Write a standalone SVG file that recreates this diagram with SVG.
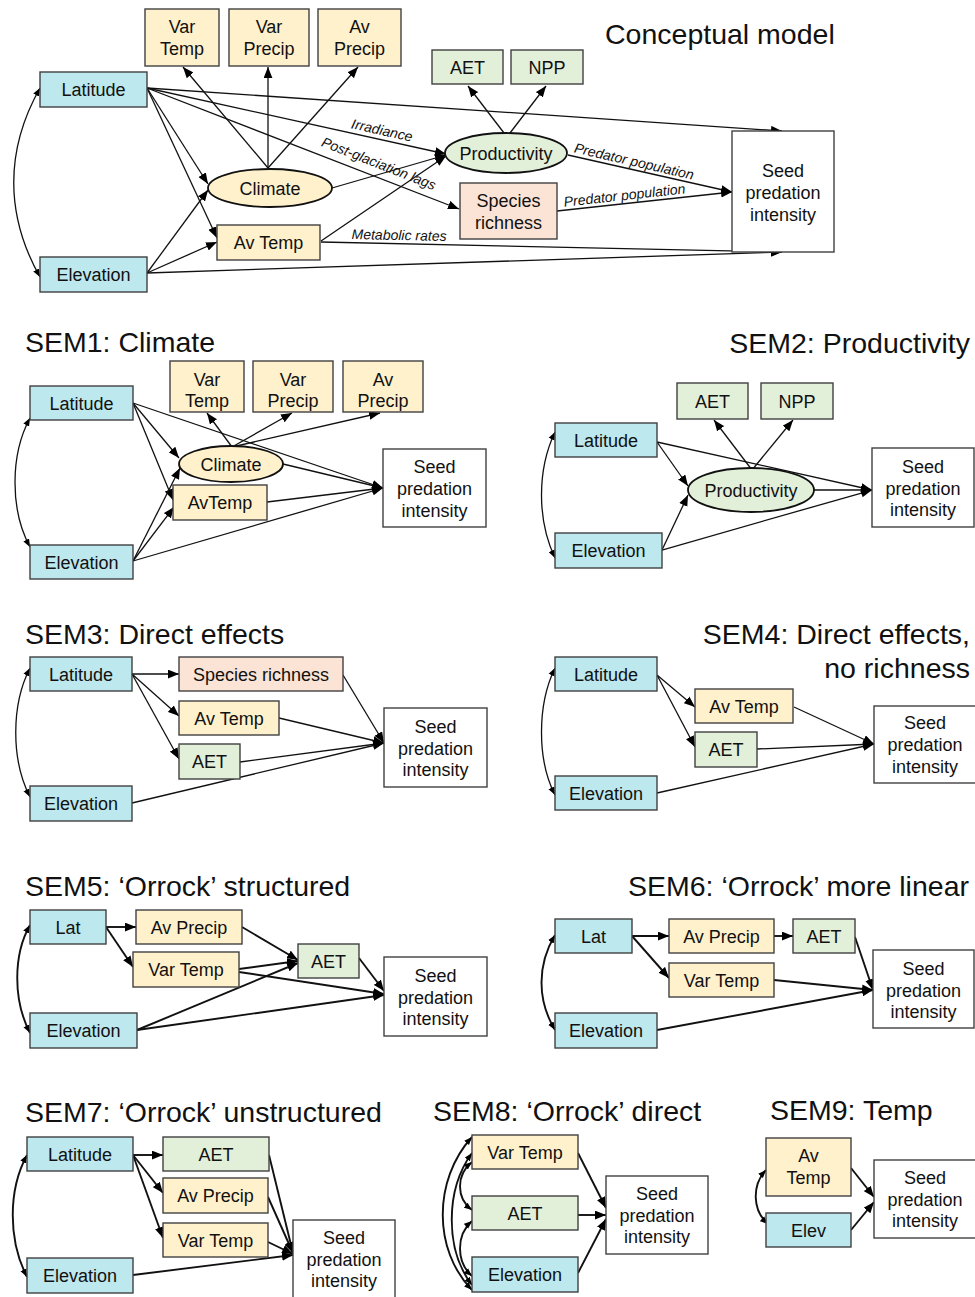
<svg xmlns="http://www.w3.org/2000/svg" width="975" height="1297" viewBox="0 0 975 1297">
<style>
text{font-family:"Liberation Sans",Arial,sans-serif;fill:#111}
.t{font-size:28.5px}
.n{font-size:18px;text-anchor:middle}
.lb{font-size:14px;font-style:italic;text-anchor:middle}
.nd rect,.nd ellipse{stroke:#404040;stroke-width:1.4}
.nd ellipse{stroke:#111;stroke-width:1.8}
.b{fill:#BDE8EE}.y{fill:#FFF1CC}.g{fill:#E2EFD9}.p{fill:#FBE4D5}.w{fill:#fff}
.c path,.c line{fill:none;stroke:#111;stroke-width:1.3;marker-end:url(#ah)}
.c .d{marker-start:url(#ahs);marker-end:url(#ahs)}
.k path,.k line{stroke-width:1.9}
</style>
<defs>
<marker id="ah" viewBox="0 0 10 8" refX="10" refY="4" markerWidth="11" markerHeight="9" markerUnits="userSpaceOnUse" orient="auto-start-reverse"><path d="M0,0L10,4L0,8Z" fill="#000"/></marker>
<marker id="ahs" viewBox="0 0 10 8" refX="10" refY="4" markerWidth="8" markerHeight="7" markerUnits="userSpaceOnUse" orient="auto-start-reverse"><path d="M0,0L10,4L0,8Z" fill="#000"/></marker>
</defs>
<rect width="975" height="1297" fill="#fff"/>

<g id="titles">
<text class="t" x="605" y="44">Conceptual model</text>
<text class="t" x="25" y="352">SEM1: Climate</text>
<text class="t" x="970" y="353" text-anchor="end">SEM2: Productivity</text>
<text class="t" x="25" y="644">SEM3: Direct effects</text>
<text class="t" x="970" y="644" text-anchor="end">SEM4: Direct effects,</text>
<text class="t" x="970" y="678" text-anchor="end">no richness</text>
<text class="t" x="25" y="896">SEM5: ‘Orrock’ structured</text>
<text class="t" x="969" y="896" text-anchor="end">SEM6: ‘Orrock’ more linear</text>
<text class="t" x="25" y="1122">SEM7: ‘Orrock’ unstructured</text>
<text class="t" x="433" y="1121">SEM8: ‘Orrock’ direct</text>
<text class="t" x="770" y="1120">SEM9: Temp</text>
</g>

<g id="connectors" class="c">
<!-- conceptual -->
<path class="d" d="M40,88 C5,150 5,215 40,277"/>
<line x1="147" y1="88" x2="782" y2="131"/>
<line x1="147" y1="88" x2="446" y2="154"/>
<line x1="147" y1="88" x2="459" y2="209"/>
<line x1="147" y1="88" x2="208" y2="184"/>
<line x1="147" y1="88" x2="217" y2="238"/>
<line x1="268" y1="168" x2="183" y2="67"/>
<line x1="268" y1="168" x2="268" y2="67"/>
<line x1="268" y1="168" x2="358" y2="67"/>
<line x1="332" y1="188" x2="446" y2="155"/>
<line x1="321" y1="241" x2="446" y2="156"/>
<line x1="321" y1="242" x2="782" y2="252"/>
<line x1="147" y1="273" x2="208" y2="190"/>
<line x1="147" y1="273" x2="217" y2="242"/>
<line x1="147" y1="273" x2="782" y2="252"/>
<line x1="504" y1="133" x2="468" y2="86"/>
<line x1="510" y1="133" x2="546" y2="86"/>
<line x1="568" y1="155" x2="732" y2="192"/>
<line x1="557" y1="211" x2="732" y2="192"/>
<!-- SEM1 -->
<path class="d" d="M30,418 C10,455 10,510 30,547"/>
<line x1="133" y1="403" x2="383" y2="488"/>
<line x1="133" y1="403" x2="179" y2="458"/>
<line x1="133" y1="403" x2="173" y2="500"/>
<line x1="232" y1="447" x2="207" y2="413"/>
<line x1="232" y1="447" x2="292" y2="413"/>
<line x1="232" y1="447" x2="380" y2="413"/>
<line x1="283" y1="464" x2="383" y2="488"/>
<line x1="267" y1="502" x2="383" y2="488"/>
<line x1="133" y1="561" x2="180" y2="468"/>
<line x1="133" y1="561" x2="174" y2="507"/>
<line x1="133" y1="561" x2="383" y2="488"/>
<!-- SEM2 -->
<path class="d" d="M555,432 C537,470 537,520 555,558"/>
<line x1="657" y1="442" x2="688" y2="486"/>
<line x1="657" y1="442" x2="872" y2="490"/>
<line x1="662" y1="550" x2="688" y2="495"/>
<line x1="662" y1="550" x2="872" y2="490"/>
<line x1="814" y1="490" x2="872" y2="490"/>
<line x1="752" y1="470" x2="714" y2="420"/>
<line x1="752" y1="470" x2="793" y2="420"/>
<!-- SEM3 -->
<path class="d" d="M30,668 C11,705 11,760 30,797"/>
<line x1="132" y1="674" x2="179" y2="674"/>
<line x1="132" y1="674" x2="179" y2="716"/>
<line x1="132" y1="674" x2="179" y2="759"/>
<line x1="343" y1="675" x2="384" y2="743"/>
<line x1="279" y1="718" x2="384" y2="743"/>
<line x1="240" y1="762" x2="384" y2="743"/>
<line x1="132" y1="803" x2="384" y2="743"/>
<!-- SEM4 -->
<path class="d" d="M555,668 C537,705 537,760 555,795"/>
<line x1="657" y1="675" x2="695" y2="707"/>
<line x1="657" y1="675" x2="695" y2="747"/>
<line x1="794" y1="707" x2="874" y2="744"/>
<line x1="757" y1="749" x2="874" y2="744"/>
<line x1="657" y1="793" x2="874" y2="744"/>
<g class="k">
<!-- SEM5 -->
<path class="d" d="M30,925 C13,955 13,1000 30,1033"/>
<line x1="106" y1="927" x2="136" y2="927"/>
<line x1="106" y1="927" x2="133" y2="967"/>
<line x1="242" y1="927" x2="298" y2="960"/>
<line x1="239" y1="969" x2="298" y2="961"/>
<line x1="239" y1="972" x2="384" y2="994"/>
<line x1="137" y1="1030" x2="298" y2="963"/>
<line x1="137" y1="1030" x2="384" y2="995"/>
<line x1="359" y1="958" x2="384" y2="991"/>
<!-- SEM6 -->
<path class="d" d="M555,935 C537,965 537,1000 555,1030"/>
<line x1="632" y1="936" x2="669" y2="936"/>
<line x1="632" y1="936" x2="669" y2="978"/>
<line x1="774" y1="936" x2="793" y2="936"/>
<line x1="855" y1="937" x2="873" y2="990"/>
<line x1="774" y1="980" x2="873" y2="990"/>
<line x1="657" y1="1030" x2="873" y2="990"/>
<!-- SEM7 -->
<path class="d" d="M27,1155 C8,1190 8,1240 27,1277"/>
<line x1="133" y1="1155" x2="163" y2="1155"/>
<line x1="133" y1="1155" x2="163" y2="1193"/>
<line x1="133" y1="1155" x2="163" y2="1238"/>
<line x1="269" y1="1155" x2="293" y2="1253"/>
<line x1="268" y1="1197" x2="293" y2="1253"/>
<line x1="268" y1="1242" x2="293" y2="1254"/>
<line x1="133" y1="1275" x2="293" y2="1255"/>
<!-- SEM8 -->
<path class="d" d="M472,1137 C433,1180 433,1250 472,1290"/>
<path class="d" d="M472,1153 C445,1190 445,1250 472,1285"/>
<path class="d" d="M472,1162 C456,1175 456,1198 472,1210"/>
<path class="d" d="M472,1221 C456,1235 456,1262 472,1276"/>
<line x1="578" y1="1153" x2="606" y2="1208"/>
<line x1="578" y1="1215" x2="606" y2="1215"/>
<line x1="578" y1="1273" x2="606" y2="1219"/>
<!-- SEM9 -->
<path class="d" d="M766,1170 C752,1185 752,1210 768,1224"/>
<line x1="851" y1="1168" x2="874" y2="1197"/>
<line x1="851" y1="1230" x2="874" y2="1202"/>
</g>
</g>

<g id="edge-labels">
<text class="lb" transform="translate(381,135) rotate(12.6)">Irradiance</text>
<text class="lb" transform="translate(377,168) rotate(21.5)">Post-glaciation lags</text>
<text class="lb" transform="translate(399,240) rotate(1.2)">Metabolic rates</text>
<text class="lb" transform="translate(633,166) rotate(13)">Predator population</text>
<text class="lb" transform="translate(625,200) rotate(-6.3)">Predator population</text>
</g>

<g class="nd">
<!-- Conceptual model nodes -->
<g id="c-vartemp"><rect class="y" x="145" y="9" width="74" height="57"/><text class="n" x="182" y="33">Var</text><text class="n" x="182" y="55">Temp</text></g>
<g id="c-varprecip"><rect class="y" x="229" y="9" width="80" height="57"/><text class="n" x="269" y="33">Var</text><text class="n" x="269" y="55">Precip</text></g>
<g id="c-avprecip"><rect class="y" x="318" y="9" width="83" height="57"/><text class="n" x="359.5" y="33">Av</text><text class="n" x="359.5" y="55">Precip</text></g>
<g id="c-aet"><rect class="g" x="432" y="50" width="71" height="34"/><text class="n" x="467.5" y="73.5">AET</text></g>
<g id="c-npp"><rect class="g" x="511" y="50" width="72" height="34"/><text class="n" x="547" y="73.5">NPP</text></g>
<g id="c-lat"><rect class="b" x="40" y="72" width="107" height="35"/><text class="n" x="93.5" y="96">Latitude</text></g>
<g id="c-elev"><rect class="b" x="40" y="257" width="107" height="35"/><text class="n" x="93.5" y="281">Elevation</text></g>
<g id="c-climate"><ellipse class="y" cx="270" cy="188" rx="62" ry="19"/><text class="n" x="270" y="194.5">Climate</text></g>
<g id="c-prod"><ellipse class="g" cx="506" cy="153" rx="61" ry="20"/><text class="n" x="506" y="159.5">Productivity</text></g>
<g id="c-avtemp"><rect class="y" x="217" y="225" width="103" height="35"/><text class="n" x="268.5" y="249">Av Temp</text></g>
<g id="c-sr"><rect class="p" x="460" y="183" width="97" height="56"/><text class="n" x="508.5" y="207">Species</text><text class="n" x="508.5" y="229">richness</text></g>
<g id="c-seed"><rect class="w" x="732" y="131" width="102" height="121"/><text class="n" x="783" y="177">Seed</text><text class="n" x="783" y="199">predation</text><text class="n" x="783" y="221">intensity</text></g>

<!-- SEM1 -->
<g id="s1-lat"><rect class="b" x="30" y="386" width="103" height="34"/><text class="n" x="81.5" y="409.5">Latitude</text></g>
<g id="s1-elev"><rect class="b" x="30" y="545" width="103" height="34"/><text class="n" x="81.5" y="568.5">Elevation</text></g>
<g id="s1-vartemp"><rect class="y" x="170" y="361" width="74" height="51"/><text class="n" x="207" y="386">Var</text><text class="n" x="207" y="407">Temp</text></g>
<g id="s1-varprecip"><rect class="y" x="253" y="361" width="80" height="51"/><text class="n" x="293" y="386">Var</text><text class="n" x="293" y="407">Precip</text></g>
<g id="s1-avprecip"><rect class="y" x="343" y="361" width="80" height="51"/><text class="n" x="383" y="386">Av</text><text class="n" x="383" y="407">Precip</text></g>
<g id="s1-climate"><ellipse class="y" cx="231" cy="464" rx="52" ry="18"/><text class="n" x="231" y="470.5">Climate</text></g>
<g id="s1-avtemp"><rect class="y" x="173" y="485" width="94" height="35"/><text class="n" x="220" y="509">AvTemp</text></g>
<g id="s1-seed"><rect class="w" x="383" y="449" width="103" height="78"/><text class="n" x="434.5" y="473">Seed</text><text class="n" x="434.5" y="495">predation</text><text class="n" x="434.5" y="517">intensity</text></g>

<!-- SEM2 -->
<g id="s2-aet"><rect class="g" x="677" y="383" width="71" height="36"/><text class="n" x="712.5" y="407.5">AET</text></g>
<g id="s2-npp"><rect class="g" x="761" y="383" width="72" height="36"/><text class="n" x="797" y="407.5">NPP</text></g>
<g id="s2-lat"><rect class="b" x="555" y="423" width="102" height="34"/><text class="n" x="606" y="446.5">Latitude</text></g>
<g id="s2-elev"><rect class="b" x="555" y="533" width="107" height="35"/><text class="n" x="608.5" y="557">Elevation</text></g>
<g id="s2-prod"><ellipse class="g" cx="751" cy="490" rx="63" ry="22"/><text class="n" x="751" y="496.5">Productivity</text></g>
<g id="s2-seed"><rect class="w" x="872" y="448" width="102" height="79"/><text class="n" x="923" y="473">Seed</text><text class="n" x="923" y="495">predation</text><text class="n" x="923" y="516">intensity</text></g>

<!-- SEM3 -->
<g id="s3-lat"><rect class="b" x="30" y="657" width="102" height="34"/><text class="n" x="81" y="680.5">Latitude</text></g>
<g id="s3-elev"><rect class="b" x="30" y="786" width="102" height="35"/><text class="n" x="81" y="810">Elevation</text></g>
<g id="s3-sr"><rect class="p" x="179" y="657" width="164" height="34"/><text class="n" x="261" y="680.5">Species richness</text></g>
<g id="s3-avtemp"><rect class="y" x="179" y="701" width="100" height="34"/><text class="n" x="229" y="724.5">Av Temp</text></g>
<g id="s3-aet"><rect class="g" x="179" y="744" width="61" height="35"/><text class="n" x="209.5" y="768">AET</text></g>
<g id="s3-seed"><rect class="w" x="384" y="708" width="103" height="79"/><text class="n" x="435.5" y="733">Seed</text><text class="n" x="435.5" y="755">predation</text><text class="n" x="435.5" y="776">intensity</text></g>

<!-- SEM4 -->
<g id="s4-lat"><rect class="b" x="555" y="657" width="102" height="34"/><text class="n" x="606" y="680.5">Latitude</text></g>
<g id="s4-elev"><rect class="b" x="555" y="776" width="102" height="34"/><text class="n" x="606" y="799.5">Elevation</text></g>
<g id="s4-avtemp"><rect class="y" x="695" y="689" width="98" height="34"/><text class="n" x="744" y="712.5">Av Temp</text></g>
<g id="s4-aet"><rect class="g" x="695" y="732" width="62" height="35"/><text class="n" x="726" y="756">AET</text></g>
<g id="s4-seed"><rect class="w" x="874" y="706" width="103" height="77"/><text class="n" x="925" y="729">Seed</text><text class="n" x="925" y="751">predation</text><text class="n" x="925" y="773">intensity</text></g>

<!-- SEM5 -->
<g id="s5-lat"><rect class="b" x="30" y="910" width="76" height="34"/><text class="n" x="68" y="933.5">Lat</text></g>
<g id="s5-elev"><rect class="b" x="30" y="1013" width="107" height="35"/><text class="n" x="83.5" y="1037">Elevation</text></g>
<g id="s5-avprecip"><rect class="y" x="136" y="910" width="106" height="34"/><text class="n" x="189" y="933.5">Av Precip</text></g>
<g id="s5-vartemp"><rect class="y" x="133" y="952" width="106" height="35"/><text class="n" x="186" y="976">Var Temp</text></g>
<g id="s5-aet"><rect class="g" x="298" y="944" width="61" height="34"/><text class="n" x="328.5" y="967.5">AET</text></g>
<g id="s5-seed"><rect class="w" x="384" y="957" width="103" height="79"/><text class="n" x="435.5" y="982">Seed</text><text class="n" x="435.5" y="1004">predation</text><text class="n" x="435.5" y="1025">intensity</text></g>

<!-- SEM6 -->
<g id="s6-lat"><rect class="b" x="555" y="919" width="77" height="34"/><text class="n" x="593.5" y="942.5">Lat</text></g>
<g id="s6-avprecip"><rect class="y" x="669" y="919" width="105" height="34"/><text class="n" x="721.5" y="942.5">Av Precip</text></g>
<g id="s6-aet"><rect class="g" x="793" y="919" width="62" height="34"/><text class="n" x="824" y="942.5">AET</text></g>
<g id="s6-vartemp"><rect class="y" x="669" y="963" width="105" height="34"/><text class="n" x="721.5" y="986.5">Var Temp</text></g>
<g id="s6-elev"><rect class="b" x="555" y="1013" width="102" height="35"/><text class="n" x="606" y="1037">Elevation</text></g>
<g id="s6-seed"><rect class="w" x="873" y="950" width="101" height="78"/><text class="n" x="923.5" y="975">Seed</text><text class="n" x="923.5" y="997">predation</text><text class="n" x="923.5" y="1018">intensity</text></g>

<!-- SEM7 -->
<g id="s7-lat"><rect class="b" x="27" y="1137" width="106" height="34"/><text class="n" x="80" y="1160.5">Latitude</text></g>
<g id="s7-elev"><rect class="b" x="27" y="1258" width="106" height="35"/><text class="n" x="80" y="1282">Elevation</text></g>
<g id="s7-aet"><rect class="g" x="163" y="1137" width="106" height="34"/><text class="n" x="216" y="1160.5">AET</text></g>
<g id="s7-avprecip"><rect class="y" x="163" y="1178" width="105" height="35"/><text class="n" x="215.5" y="1202">Av Precip</text></g>
<g id="s7-vartemp"><rect class="y" x="163" y="1223" width="105" height="34"/><text class="n" x="215.5" y="1246.5">Var Temp</text></g>
<g id="s7-seed"><rect class="w" x="293" y="1220" width="102" height="84"/><text class="n" x="344" y="1244">Seed</text><text class="n" x="344" y="1266">predation</text><text class="n" x="344" y="1287">intensity</text></g>

<!-- SEM8 -->
<g id="s8-vartemp"><rect class="y" x="472" y="1135" width="106" height="34"/><text class="n" x="525" y="1158.5">Var Temp</text></g>
<g id="s8-aet"><rect class="g" x="472" y="1196" width="106" height="34"/><text class="n" x="525" y="1219.5">AET</text></g>
<g id="s8-elev"><rect class="b" x="472" y="1257" width="106" height="35"/><text class="n" x="525" y="1281">Elevation</text></g>
<g id="s8-seed"><rect class="w" x="606" y="1176" width="102" height="78"/><text class="n" x="657" y="1200">Seed</text><text class="n" x="657" y="1222">predation</text><text class="n" x="657" y="1243">intensity</text></g>

<!-- SEM9 -->
<g id="s9-avtemp"><rect class="y" x="766" y="1138" width="85" height="58"/><text class="n" x="808.5" y="1162">Av</text><text class="n" x="808.5" y="1184">Temp</text></g>
<g id="s9-elev"><rect class="b" x="766" y="1213" width="85" height="34"/><text class="n" x="808.5" y="1236.5">Elev</text></g>
<g id="s9-seed"><rect class="w" x="874" y="1160" width="103" height="78"/><text class="n" x="925" y="1184">Seed</text><text class="n" x="925" y="1206">predation</text><text class="n" x="925" y="1227">intensity</text></g>
</g>
</svg>
